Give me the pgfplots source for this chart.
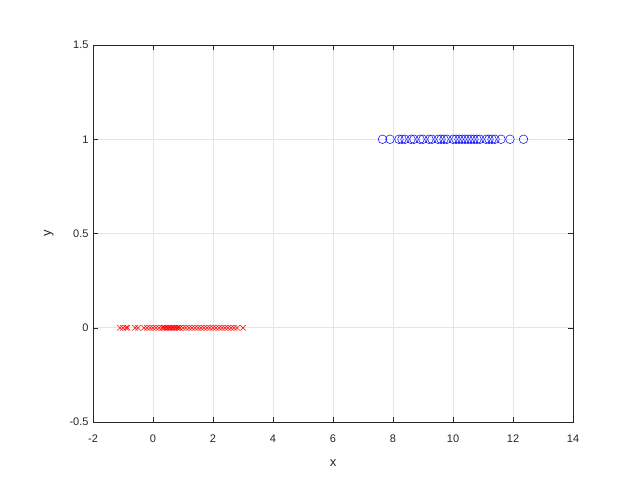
\documentclass[border=0pt]{standalone}
\usepackage{pgfplots}
\pgfplotsset{compat=1.18}
\usepackage{fontspec}
\setmainfont{Liberation Sans}
\definecolor{axgray}{RGB}{38,38,38}
\begin{document}
\begin{tikzpicture}[x=1pt,y=1pt]
\path[fill=white] (0,0) rectangle (624,494);
\begin{axis}[
  at={(93pt,72pt)}, anchor=south west,
  scale only axis, width=480pt, height=377pt,
  xmin=-2, xmax=14, ymin=-0.5, ymax=1.5,
  xtick={-2,0,...,14}, ytick={-0.5,0,0.5,1,1.5},
  yticklabels={-0.5,0,0.5,1,1.5},
  /pgf/number format/assume math mode=true,
  tick label style={font=\fontsize{11}{13}\selectfont, text=axgray},
  xticklabel style={yshift=-9pt},
  yticklabel style={xshift=-1pt},
  label style={font=\fontsize{13}{15}\selectfont, text=axgray},
  xlabel={x}, ylabel={y},
  tick align=inside, tick pos=both,
  major tick length=5pt,
  grid=major, grid style={gray!20, line width=0.5pt},
  axis line style={axgray, line width=0.5pt},
  every tick/.style={axgray},
  axis background/.style={fill=white},
  xlabel style={yshift=-10pt},
  ylabel style={yshift=9pt},
]
\addplot[only marks, red, mark=x, mark size=3.8pt, mark options={line width=0.5pt}] coordinates {
(-1.1,0) (-1.0,0) (-0.9,0) (-0.85,0) (-0.6,0) (-0.5,0) (-0.3,0) (-0.2,0) (-0.1,0) (0.0,0)
(0.1,0) (0.2,0) (0.3,0) (0.35,0) (0.4,0) (0.45,0) (0.5,0) (0.55,0) (0.6,0) (0.65,0)
(0.7,0) (0.75,0) (0.8,0) (0.85,0) (0.9,0) (1.0,0) (1.1,0) (1.2,0) (1.3,0) (1.4,0)
(1.5,0) (1.6,0) (1.7,0) (1.8,0) (1.9,0) (2.0,0) (2.1,0) (2.2,0) (2.3,0) (2.4,0)
(2.5,0) (2.6,0) (2.7,0) (2.8,0) (3.0,0)
};
\addplot[only marks, blue, mark=o, mark size=4.3pt, mark options={line width=0.5pt}] coordinates {
(7.65,1) (7.9,1) (8.2,1) (8.3,1) (8.4,1) (8.6,1) (8.7,1) (8.9,1) (9.0,1) (9.2,1)
(9.3,1) (9.5,1) (9.6,1) (9.7,1) (9.8,1) (10.0,1) (10.1,1) (10.2,1) (10.3,1) (10.4,1)
(10.5,1) (10.6,1) (10.7,1) (10.8,1) (10.9,1) (11.1,1) (11.2,1) (11.3,1) (11.4,1) (11.6,1)
(11.9,1) (12.35,1)
};
\end{axis}
\end{tikzpicture}
\end{document}
